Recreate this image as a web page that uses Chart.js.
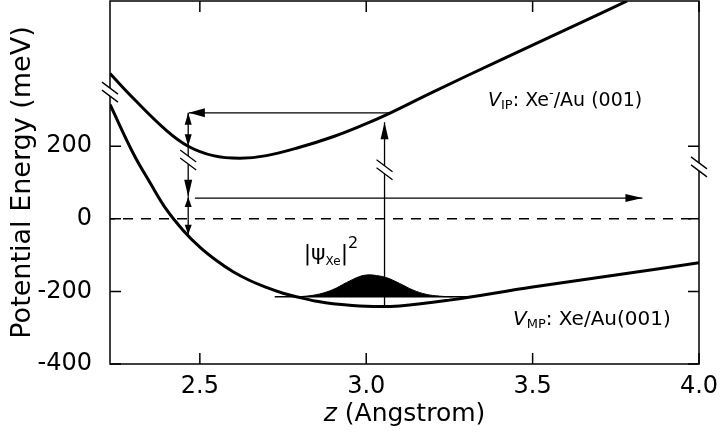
<!DOCTYPE html>
<html><head><meta charset="utf-8">
<script src="https://cdn.jsdelivr.net/npm/chart.js@4"></script>
<style>html,body{margin:0;padding:0;background:#fff}canvas{display:block}</style>
</head><body>
<canvas id="c" width="721" height="442"></canvas>
<script>
// ---- data (z in Angstrom, energy in meV) ----
const ipZ = [2.23, 2.3, 2.4, 2.465, 2.54, 2.62, 2.7, 2.8, 2.9, 3.0, 3.055, 3.2, 3.4, 3.6, 3.784];
const ipV = [400, 332, 243, 200, 174, 167, 174, 197, 226, 262, 284, 349, 436, 521, 600];
const mpZ = [2.23, 2.3, 2.35, 2.4, 2.45, 2.5, 2.55, 2.6, 2.65, 2.7, 2.75, 2.8, 2.85, 2.9, 3.0, 3.1, 3.25, 3.5, 3.75, 4.0];
const mpV = [315, 180, 100, 25, -32, -78, -115, -146, -170, -189, -205, -217, -227, -234, -241, -240, -224, -188, -155, -121];
const psiZ = [2.78, 2.82, 2.86, 2.9, 2.94, 2.98, 3.0, 3.02, 3.06, 3.1, 3.14, 3.18, 3.22, 3.26];
const psiV = [-215, -213, -207, -195, -176, -159, -155, -155, -162, -178, -196, -208, -213, -215];
const levelZ = [2.725, 3.325];
const levelV = [-215, -215];
const zeroZ = [2.23, 4.0];
const zeroV = [0, 0];
const arrowIonZ = [3.07, 2.467];
const arrowIonV = [292, 292];
const arrowFreeZ = [2.485, 3.83];
const arrowFreeV = [57, 57];
const arrowExcZ = [3.055, 3.055];
const arrowExcV = [-238, 266];
const arrowGapUZ = [2.465, 2.465];
const arrowGapUV = [292, 61];
const arrowGapMidV = 200;
const arrowGapLZ = [2.465, 2.465];
const arrowGapLV = [60, -44];
const breakZ = [2.23, 2.465, 3.055, 4.0];
const breakV = [349, 162, 135, 143];
const xTickValues = [2.3, 2.4, 2.5, 2.6, 2.7, 2.8, 2.9, 3.0, 3.1, 3.2, 3.3, 3.4, 3.5, 3.6, 3.7, 3.8, 3.9, 4.0];
const xLabelValues = [2.5, 3.0, 3.5, 4.0];
const xTickLabels = ['2.5', '3.0', '3.5', '4.0'];
const yTickValues = [-400, -300, -200, -100, 0, 100, 200, 300, 400, 500, 600];
const yLabelValues = [-400, -200, 0, 200];
const yTickLabels = ['-400', '-200', '0', '200'];
const labelZ = [3.366, 3.441, 2.812];
const labelV = [311, -292, -113];

const FAM = 'DejaVu Sans';
const pts = (zs, vs) => zs.map((z, i) => ({x: z, y: vs[i]}));
const findIdx = (arr, v) => arr.findIndex(t => Math.abs(t - v) < 1e-6);

function line(data, w, extra) {
  return Object.assign({data, borderColor: '#000', borderWidth: w, pointRadius: 0, fill: false, tension: 0}, extra || {});
}

const datasets = [
  line(pts(psiZ, psiV), 1, {backgroundColor: '#000', fill: {value: levelV[0]}, tension: 0.4}),
  line(pts(ipZ, ipV), 3, {tension: 0.4}),
  line(pts(mpZ, mpV), 3, {tension: 0.4}),
  line(pts(levelZ, levelV), 1.5),
  line(pts(zeroZ, zeroV), 1.5, {borderDash: [10, 8], borderDashOffset: 5}),
  line(pts(arrowIonZ, arrowIonV), 1.3),
  line(pts(arrowFreeZ, arrowFreeV), 1.3),
  line(pts(arrowExcZ, arrowExcV), 1.3),
  line(pts(arrowGapUZ, arrowGapUV), 1.3),
  line(pts(arrowGapLZ, arrowGapLV), 1.3)
];

const heads = [
  {z: arrowIonZ[1], v: arrowIonV[1], d: 'left', len: 16, hw: 4.5},
  {z: arrowFreeZ[1], v: arrowFreeV[1], d: 'right', len: 17, hw: 4},
  {z: arrowExcZ[1], v: arrowExcV[1], d: 'up', len: 17, hw: 4},
  {z: arrowGapUZ[0], v: arrowGapUV[0], d: 'up', len: 12, hw: 3.5},
  {z: arrowGapUZ[0], v: arrowGapMidV, d: 'down', len: 12, hw: 3.5},
  {z: arrowGapUZ[1], v: arrowGapUV[1], d: 'down', len: 17, hw: 4},
  {z: arrowGapLZ[0], v: arrowGapLV[0], d: 'up', len: 10, hw: 3.5},
  {z: arrowGapLZ[1], v: arrowGapLV[1], d: 'down', len: 10, hw: 3.5}
];

function drawPieces(ctx, x0, y0, pieces) {
  let x = x0;
  pieces.forEach(p => {
    ctx.font = p.f;
    ctx.fillText(p.t, x, y0 + (p.dy || 0));
    x += ctx.measureText(p.t).width;
  });
}

const deco = {
  id: 'deco',
  afterDraw(chart) {
    const {ctx, chartArea: a, scales: {x, y}} = chart;
    ctx.save();
    ctx.strokeStyle = '#000';
    ctx.fillStyle = '#000';
    // frame
    ctx.lineWidth = 1.5;
    ctx.strokeRect(a.left, a.top, a.right - a.left, a.bottom - a.top);
    // inward ticks
    ctx.beginPath();
    x.ticks.forEach(t => {
      const px = x.getPixelForValue(t.value);
      const L = findIdx(xLabelValues, t.value) >= 0 ? 11 : 6;
      ctx.moveTo(px, a.bottom); ctx.lineTo(px, a.bottom - L);
      ctx.moveTo(px, a.top); ctx.lineTo(px, a.top + L);
    });
    y.ticks.forEach(t => {
      const py = y.getPixelForValue(t.value);
      const L = (Math.round(t.value) % 200 === 0) ? 11 : 6;
      ctx.moveTo(a.left, py); ctx.lineTo(a.left + L, py);
      ctx.moveTo(a.right, py); ctx.lineTo(a.right - 11, py);
    });
    ctx.stroke();
    // arrow heads
    heads.forEach(h => {
      const px = x.getPixelForValue(h.z), py = y.getPixelForValue(h.v);
      let ux = 0, uy = 0;
      if (h.d === 'left') ux = -1; else if (h.d === 'right') ux = 1; else if (h.d === 'up') uy = -1; else uy = 1;
      const bx = px - ux * h.len, by = py - uy * h.len;
      ctx.beginPath();
      ctx.moveTo(px, py);
      ctx.lineTo(bx + uy * h.hw, by - ux * h.hw);
      ctx.lineTo(bx - uy * h.hw, by + ux * h.hw);
      ctx.closePath();
      ctx.fill();
    });
    // break marks
    breakZ.forEach((z, i) => {
      const cx = x.getPixelForValue(z), cy = y.getPixelForValue(breakV[i]);
      const dx = 8, dy = 6, off = 4;
      ctx.fillStyle = '#fff';
      ctx.beginPath();
      ctx.moveTo(cx - dx, cy - off - dy); ctx.lineTo(cx + dx, cy - off + dy);
      ctx.lineTo(cx + dx, cy + off + dy); ctx.lineTo(cx - dx, cy + off - dy);
      ctx.closePath(); ctx.fill();
      ctx.lineWidth = 1.3;
      ctx.beginPath();
      ctx.moveTo(cx - dx, cy - off - dy); ctx.lineTo(cx + dx, cy - off + dy);
      ctx.moveTo(cx - dx, cy + off - dy); ctx.lineTo(cx + dx, cy + off + dy);
      ctx.stroke();
      ctx.fillStyle = '#000';
    });
    // labels
    ctx.textAlign = 'left';
    ctx.textBaseline = 'alphabetic';
    drawPieces(ctx, x.getPixelForValue(labelZ[0]), y.getPixelForValue(labelV[0]), [
      {t: 'V', f: 'italic 19px ' + FAM},
      {t: 'IP', f: '13px ' + FAM, dy: 3},
      {t: ': Xe', f: '19px ' + FAM},
      {t: '-', f: '13px ' + FAM, dy: -9},
      {t: '/Au (001)', f: '19px ' + FAM}
    ]);
    drawPieces(ctx, x.getPixelForValue(labelZ[1]), y.getPixelForValue(labelV[1]), [
      {t: 'V', f: 'italic 20px ' + FAM},
      {t: 'MP', f: '13px ' + FAM, dy: 3},
      {t: ': Xe/Au(001)', f: '20px ' + FAM}
    ]);
    drawPieces(ctx, x.getPixelForValue(labelZ[2]), y.getPixelForValue(labelV[2]), [
      {t: '|', f: '22px ' + FAM},
      {t: 'ψ', f: '22px ' + FAM},
      {t: 'Xe', f: '12px ' + FAM, dy: 5},
      {t: '|', f: '22px ' + FAM},
      {t: '2', f: '16px ' + FAM, dy: -12}
    ]);
    // x axis title
    ctx.font = 'italic 25px ' + FAM;
    const w1 = ctx.measureText('z').width;
    ctx.font = '25px ' + FAM;
    const w2 = ctx.measureText(' (Angstrom)').width;
    const tx = (a.left + a.right) / 2 - (w1 + w2) / 2;
    ctx.font = 'italic 25px ' + FAM;
    ctx.fillText('z', tx, 421);
    ctx.font = '25px ' + FAM;
    ctx.fillText(' (Angstrom)', tx + w1, 421);
    ctx.restore();
  }
};

new Chart(document.getElementById('c'), {
  type: 'line',
  data: {datasets},
  options: {
    responsive: false,
    animation: false,
    devicePixelRatio: 1,
    events: [],
    layout: {padding: {left: 0, right: 22, top: 1, bottom: 0}},
    plugins: {legend: {display: false}, tooltip: {enabled: false}},
    scales: {
      x: {
        type: 'linear', min: 2.23, max: 4.0,
        afterBuildTicks: s => { s.ticks = xTickValues.map(v => ({value: v})); },
        afterFit: s => { s.height = 78; s.paddingLeft = 0; s.paddingRight = 0; },
        grid: {display: false}, border: {display: false},
        ticks: {
          autoSkip: false, maxRotation: 0, minRotation: 0, padding: 0, color: '#000',
          font: {family: FAM, size: 24},
          callback: v => { const i = findIdx(xLabelValues, v); return i >= 0 ? xTickLabels[i] : null; }
        }
      },
      y: {
        type: 'linear', min: -400, max: 600,
        afterBuildTicks: s => { s.ticks = yTickValues.map(v => ({value: v})); },
        afterFit: s => { s.width = 110; s.paddingTop = 0; s.paddingBottom = 0; },
        grid: {display: false}, border: {display: false},
        title: {display: true, text: 'Potential Energy (meV)', color: '#000', font: {family: FAM, size: 27}, padding: {top: 7, bottom: 0}},
        ticks: {
          autoSkip: false, padding: 10, color: '#000',
          font: {family: FAM, size: 24},
          callback: v => { const i = findIdx(yLabelValues, v); return i >= 0 ? yTickLabels[i] : null; }
        }
      }
    }
  },
  plugins: [deco]
});
</script>
</body></html>
